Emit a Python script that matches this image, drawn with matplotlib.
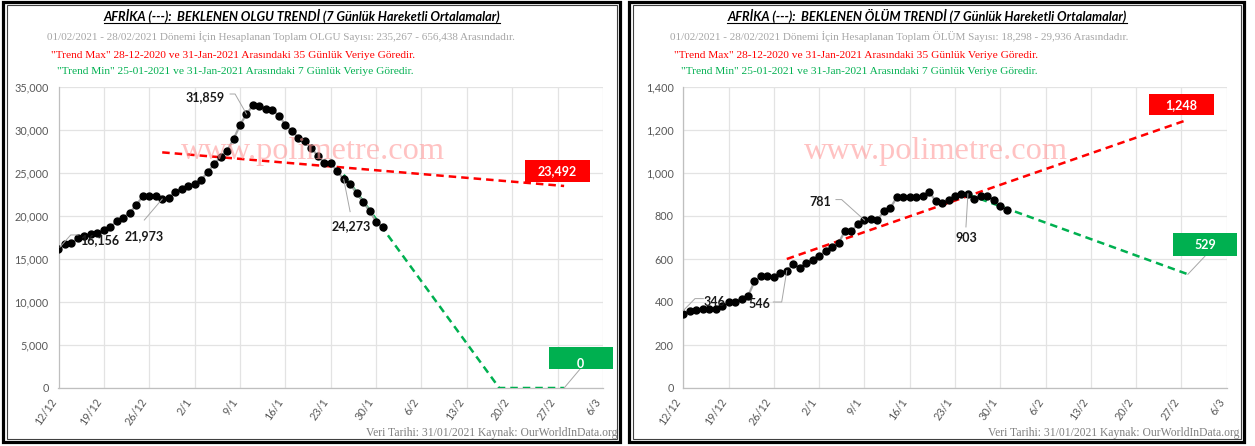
import matplotlib
matplotlib.use('Agg')
import matplotlib.pyplot as plt
import matplotlib.dates as mdates
import matplotlib.transforms as mtransforms
from matplotlib.patches import Rectangle
from matplotlib.lines import Line2D
import pandas as pd

W, H, DPI = 1255, 446, 100

# ---------------- data ----------------
dates = pd.date_range('2020-12-12', '2021-01-31', freq='D')
cases = [16156, 16709, 16826, 17407, 17717, 17910, 17988, 18372, 18682, 19457,
         19806, 20388, 21279, 22287, 22287, 22287, 21973, 22132, 22791, 23178,
         23488, 23721, 24186, 25078, 26047, 26822, 27597, 28915, 30581, 31859,
         32868, 32752, 32480, 32326, 31666, 30620, 29884, 29109, 28721, 27907,
         26977, 26163, 26163, 25194, 24273, 23760, 22636, 21667, 20581, 19341,
         18682]
deaths = [346, 358, 363, 366, 366, 366, 380, 400, 400, 416,
          427, 496, 520, 521, 516, 534, 546, 577, 558, 580,
          597, 614, 637, 656, 673, 732, 728, 765, 781, 786,
          781, 822, 837, 887, 887, 887, 887, 891, 913, 870,
          862, 876, 893, 901, 903, 878, 895, 891, 875, 848,
          830]

trend_max_dates = pd.to_datetime(['2020-12-28', '2021-02-28'])
cases_trend_max = [27400, 23492]
deaths_trend_max = [600, 1248]

cases_trend_min_dates = pd.to_datetime(['2021-01-25', '2021-02-18', '2021-02-28'])
cases_trend_min = [24800, 0, 0]
deaths_trend_min_dates = pd.to_datetime(['2021-01-25', '2021-02-28'])
deaths_trend_min = [900, 529]

tick_dates = pd.date_range('2020-12-12', '2021-03-06', freq='7D')
tick_labels = [f'{d.day}/{d.month}' for d in tick_dates]

cases_yticks = list(range(0, 35001, 5000))
deaths_yticks = list(range(0, 1401, 200))

titles = ['AFRİKA (---):  BEKLENEN OLGU TRENDİ (7 Günlük Hareketli Ortalamalar)',
          'AFRİKA (---):  BEKLENEN ÖLÜM TRENDİ (7 Günlük Hareketli Ortalamalar)']
info_lines = ['01/02/2021 - 28/02/2021 Dönemi İçin Hesaplanan Toplam OLGU Sayısı: 235,267 - 656,438 Arasındadır.',
              '01/02/2021 - 28/02/2021 Dönemi İçin Hesaplanan Toplam ÖLÜM Sayısı: 18,298 - 29,936 Arasındadır.']
max_note = '"Trend Max" 28-12-2020 ve 31-Jan-2021 Arasındaki 35 Günlük Veriye Göredir.'
min_note = '"Trend Min" 25-01-2021 ve 31-Jan-2021 Arasındaki 7 Günlük Veriye Göredir.'
footer = 'Veri Tarihi: 31/01/2021 Kaynak: OurWorldInData.org'
watermark = 'www.polimetre.com'

# ---------------- style ----------------
SANS = ['Lato', 'DejaVu Sans']
SERIF = ['Liberation Serif', 'DejaVu Serif']
RED = '#ff0000'
GREEN = '#00b050'
GRID = '#e3e3e3'
TICKC = '#595959'

fig = plt.figure(figsize=(W / DPI, H / DPI), dpi=DPI)
fig.patch.set_facecolor('white')


def fx(x):
    return x / W


def fy(y):
    return 1 - y / H


def panel_frame(x0, x1):
    fig.add_artist(Rectangle((fx(x0), fy(442)), fx(x1) - fx(x0), fy(1.5) - fy(442),
                             transform=fig.transFigure, fill=False, lw=2.3, ec='black'))
    fig.add_artist(Rectangle((fx(x0 + 3.5), fy(438.5)), fx(x1 - 3.5) - fx(x0 + 3.5), fy(5) - fy(438.5),
                             transform=fig.transFigure, fill=False, lw=0.8, ec='#404040'))


def make_axes(x0, x1, ymax, yticks, fmt):
    ax = fig.add_axes([fx(x0), fy(388), fx(x1) - fx(x0), fy(87) - fy(388)])
    ax.set_xlim(mdates.date2num(pd.Timestamp('2020-12-12')), mdates.date2num(pd.Timestamp('2021-03-06')))
    ax.set_ylim(0, ymax)
    ax.set_xticks(mdates.date2num(tick_dates))
    ax.set_xticklabels(tick_labels, rotation=55, ha='right', va='top',
                       fontsize=7.8, color=TICKC, family=SANS)
    for lab in ax.get_xticklabels():
        lab.set_transform(lab.get_transform() + mtransforms.Affine2D().translate(3, 0))
    ax.set_yticks(yticks)
    ax.set_yticklabels([fmt(v) for v in yticks], fontsize=7.8, color=TICKC, family=SANS)
    ax.tick_params(length=0, pad=7)
    ax.tick_params(axis='x', pad=6)
    ax.grid(True, color=GRID, lw=0.9)
    ax.set_axisbelow(True)
    for s in ['top', 'right']:
        ax.spines[s].set_visible(False)
    for s in ['left', 'bottom']:
        ax.spines[s].set_color('#bfbfbf')
        ax.spines[s].set_linewidth(0.9)
    ax.patch.set_alpha(0)
    return ax


def off_trans(ax, xdate, yval):
    return mtransforms.ScaledTranslation(mdates.date2num(pd.Timestamp(xdate)), yval, ax.transData)


def point_label(ax, xdate, yval, text, tx, ty, path):
    tr = off_trans(ax, xdate, yval)
    xs = [p[0] for p in path]
    ys = [p[1] for p in path]
    fig.add_artist(Line2D(xs, ys, transform=tr, color='#a6a6a6', lw=0.7, zorder=5))
    fig.text(tx, ty, text, transform=tr, ha='center', va='center', fontsize=9,
             fontweight='bold', color='#1a1a1a', family=SANS, zorder=6)


def box_label(ax, xdate, yval, text, cx, cy, w, h, color, tdx=0, tdy=0, leader=None):
    tr = off_trans(ax, xdate, yval)
    if leader is not None:
        fig.add_artist(Line2D([p[0] for p in leader], [p[1] for p in leader], transform=tr,
                              color='#a6a6a6', lw=0.7, zorder=5))
    fig.add_artist(Rectangle((cx - w / 2, cy - h / 2), w, h, transform=tr, fc=color, ec='none', zorder=6))
    fig.text(cx + tdx, cy + tdy, text, transform=tr, ha='center', va='center', fontsize=9,
             fontweight='bold', color='white', family=SANS, zorder=7)


def header(xc, x_info, x_max, x_min, idx, x_footer_right):
    t = fig.text(fx(xc), fy(16), titles[idx], ha='center', va='center', fontsize=9.2,
                 fontweight='bold', fontstyle='italic', color='black', family=SANS)
    fig.canvas.draw()
    bb = t.get_window_extent(fig.canvas.get_renderer())
    fig.add_artist(Line2D([bb.x0 / W, bb.x1 / W], [fy(22.5), fy(22.5)],
                          transform=fig.transFigure, color='black', lw=0.8))
    fig.text(fx(x_info), fy(37), info_lines[idx], ha='left', va='center', fontsize=8,
             color='#a6a6a6', family=SERIF)
    fig.text(fx(x_max), fy(55), max_note, ha='left', va='center', fontsize=8.2,
             color=RED, family=SERIF)
    fig.text(fx(x_min), fy(72), min_note, ha='left', va='center', fontsize=8.2,
             color=GREEN, family=SERIF)
    fig.text(fx(x_footer_right), fy(433), footer, ha='right', va='center', fontsize=8.4,
             color='#808080', family=SERIF)


def draw_series(ax, values, tmax_vals, tmin_dates, tmin_vals):
    ax.plot(mdates.date2num(trend_max_dates), tmax_vals, color=RED, lw=1.8,
            dashes=(3, 2), zorder=3)
    ax.plot(mdates.date2num(tmin_dates), tmin_vals, color=GREEN, lw=1.8,
            dashes=(3, 2), zorder=3)
    ax.plot(mdates.date2num(dates), values, color='#a6a6a6', lw=1.6, zorder=4,
            marker='o', markersize=5.0, markerfacecolor='black', markeredgecolor='black')


# ---------------- panels ----------------
panel_frame(3, 620)
panel_frame(629, 1244)

ax1 = make_axes(58.5, 603, 35000, cases_yticks, lambda v: f'{v:,}')
ax2 = make_axes(683.3, 1226.7, 1400, deaths_yticks, lambda v: f'{v:,}')

for ax, xc in [(ax1, 313), (ax2, 936)]:
    fig.text(fx(xc), fy(152), watermark, ha='center', va='center', fontsize=23.3,
             color='#ff9a9a', alpha=0.6, family=SERIF, zorder=2)

draw_series(ax1, cases, cases_trend_max, cases_trend_min_dates, cases_trend_min)
draw_series(ax2, deaths, deaths_trend_max, deaths_trend_min_dates, deaths_trend_min)

header(302, 46.6, 51, 57, 0, 617)
header(927, 670, 674, 681, 1, 1240)

# labels, left
point_label(ax1, dates[0], cases[0], f'{cases[0]:,}', 41.5, 9.1,
            [(19.5, 14.1), (12.2, 14.1), (1.5, 2)])
point_label(ax1, dates[16], cases[16], f'{cases[16]:,}', -18.2, -37,
            [(-17.9, -21), (0, 0)])
point_label(ax1, dates[29], cases[29], f'{cases[29]:,}', -41.4, 17,
            [(-16.4, 20), (-11.4, 20), (0, 0)])
point_label(ax1, dates[44], cases[44], f'{cases[44]:,}', 7.4, -46.7,
            [(6.4, -32.4), (0, 0)])
box_label(ax1, trend_max_dates[-1], cases_trend_max[-1], f'{cases_trend_max[-1]:,}',
          -6.5, 15, 65, 22, RED)
box_label(ax1, cases_trend_min_dates[-1], cases_trend_min[-1], f'{cases_trend_min[-1]:,}',
          17, 30, 64, 22, GREEN, tdx=-1, tdy=-6, leader=[(0, 0), (16, 19)])

# labels, right
point_label(ax2, dates[0], deaths[0], f'{deaths[0]:,}', 31.2, 11.8,
            [(20, 15), (11.7, 15), (0, 3)])
point_label(ax2, dates[16], deaths[16], f'{deaths[16]:,}', -27.3, -33.2,
            [(-13.5, -31.4), (-5.1, -31.4), (0, 0)])
point_label(ax2, dates[28], deaths[28], f'{deaths[28]:,}', -44, 18.3,
            [(-28.5, 20.5), (-22.8, 20.5), (0, 0)])
point_label(ax2, dates[44], deaths[44], f'{deaths[44]:,}', -2, -43.9,
            [(-2, -33.1), (0, 0)])
box_label(ax2, trend_max_dates[-1], deaths_trend_max[-1], f'{deaths_trend_max[-1]:,}',
          -6.5, 15, 65, 21, RED)
box_label(ax2, deaths_trend_min_dates[-1], deaths_trend_min[-1], f'{deaths_trend_min[-1]:,}',
          17, 29.5, 64, 23, GREEN, leader=[(0, 0), (17, 18)])

fig.savefig('out.png', dpi=DPI)
